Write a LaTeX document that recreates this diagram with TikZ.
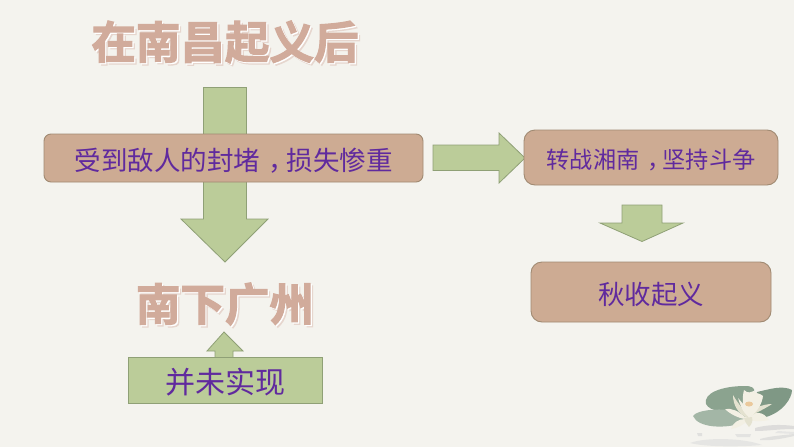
\documentclass[tikz,border=0pt]{standalone}
\usepackage{fontspec}
\setmainfont{Noto Sans CJK SC}
\newfontfamily\cjkheavy[FakeBold=2.6]{Noto Sans CJK SC Bold}
\usetikzlibrary{shapes.geometric}
\newcommand{\midcomma}{\hspace{.33em}，\hspace{-.33em}}
\definecolor{bgc}{HTML}{F4F3EE}
\definecolor{tanfill}{HTML}{CDAB93}
\definecolor{tanline}{HTML}{A08A72}
\definecolor{greenfill}{HTML}{BBCC99}
\definecolor{greenline}{HTML}{8FA076}
\definecolor{purpletext}{HTML}{602A9E}
\definecolor{headc}{HTML}{D1AB9B}
\definecolor{headshadow}{HTML}{E6D6CE}
\definecolor{leafa}{HTML}{A3B6A6}
\definecolor{leafb}{HTML}{8BA38F}
\definecolor{leafc}{HTML}{7F9885}
\definecolor{petala}{HTML}{F3F0E4}
\definecolor{petalb}{HTML}{E4E2D0}
\tikzset{
  tanbox/.style={draw=tanline,fill=tanfill,line width=0.9pt,rounded corners=#1,inner sep=0pt},
  greenbox/.style={draw=greenline,fill=greenfill,line width=0.9pt,inner sep=0pt},
  blockarrow/.style={draw=greenline,fill=greenfill,line width=0.8pt,line join=miter},
  bodytext/.style={text=purpletext,inner sep=0pt,text depth=0pt},
  headtext/.style={inner sep=0pt,font=\cjkheavy\fontsize{44.5}{45}\selectfont},
  reflect/.style={fill=#1,draw=none,opacity=.65},
  petal/.style={fill=#1,draw=none}
}
\begin{document}
\begin{tikzpicture}[x=1pt,y=-1pt]
\path[use as bounding box,fill=bgc] (0,0) rectangle (794,447);
% heading 1
\node[headtext,text=headshadow] (h1s) at (227.5,44.5) {在南昌起义后};
\node[headtext,text=white] (h1w) at (226.2,43.2) {在南昌起义后};
\node[headtext,text=headc] (h1) at (225,42) {在南昌起义后};
% down arrow
\draw[blockarrow] (203.5,87.5) -- (246.5,87.5) -- (246.5,219) -- (268,219) -- (225,262) -- (181,219) -- (203.5,219) -- cycle;
% box 1
\node[tanbox=7pt,minimum width=379pt,minimum height=48pt] (b1) at (233.5,158) {};
\node[bodytext] (t1) at (233.5,159) {\fontsize{26.5}{27}\selectfont 受到敌人的封堵\midcomma 损失惨重};
% right arrow
\draw[blockarrow] (433,145) -- (499,145) -- (499,133) -- (525,158) -- (499,183) -- (499,170.5) -- (433,170.5) -- cycle;
% box 2
\node[tanbox=11pt,minimum width=254pt,minimum height=55pt] (b2) at (651,157.5) {};
\node[bodytext] (t2) at (651,158.5) {\fontsize{23.2}{24}\selectfont 转战湘南\midcomma 坚持斗争};
% small down arrow
\draw[blockarrow] (622,205) -- (662,205) -- (662,223) -- (683,223) -- (642,241.5) -- (600,223) -- (622,223) -- cycle;
% box 3
\node[tanbox=11pt,minimum width=240pt,minimum height=60pt] (b3) at (651,292) {};
\node[bodytext] (t3) at (651,293) {\fontsize{26.5}{27}\selectfont 秋收起义};
% heading 2
\node[headtext,text=headshadow] (h2s) at (227.5,306.5) {南下广州};
\node[headtext,text=white] (h2w) at (226.2,305.2) {南下广州};
\node[headtext,text=headc] (h2) at (225,304) {南下广州};
% up arrow
\draw[blockarrow] (224,332) -- (243,351) -- (233,351) -- (233,358) -- (215,358) -- (215,351) -- (207,351) -- cycle;
% green box
\node[greenbox,minimum width=194pt,minimum height=46pt] (b4) at (225,380) {};
\node[bodytext] (t4) at (225,381) {\fontsize{30}{30}\selectfont 并未实现};
% water lily: reflections
\path[reflect=black!13] (690,443) .. controls (705,437) and (745,438) .. (762,445) .. controls (740,447) and (705,447) .. (690,443) -- cycle;
\path[reflect=black!18] (755,428) .. controls (765,425) and (780,424) .. (794,426) -- (794,429) .. controls (778,429) and (768,431) .. (755,431) -- cycle;
\path[reflect=black!16] (760,439) .. controls (770,436) and (785,435) .. (794,434) -- (794,436) .. controls (785,438) and (772,441) .. (760,440) -- cycle;
\path[reflect=black!14] (735,434) -- (751,434) -- (750,437) -- (737,437) -- cycle;
\path[reflect=black!16] (697,433) -- (702,433) -- (702,436) -- (698,436) -- cycle;
\path[reflect=black!12] (775,433) -- (794,434) -- (794,432) -- (778,431) -- cycle;
% water lily: leaves
\path[fill=leafb] (706,404) .. controls (703,393) and (722,386) .. (745,386) .. controls (752,386) and (755,388) .. (754,392) -- (740,412) .. controls (725,412) and (710,412) .. (706,404) -- cycle;
\path[fill=leafc] (757,392) .. controls (770,389) and (783,385) .. (792,390) .. controls (792,398) and (783,412) .. (766,417) -- (752,412) -- cycle;
\path[fill=leafa] (693,416) .. controls (696,410) and (722,407) .. (742,412) .. controls (750,414) and (748,420) .. (742,423) .. controls (725,429) and (698,428) .. (693,416) -- cycle;
% water lily: outer petals
\path[petal=petala] (745,417) .. controls (738,411) and (732,408) .. (725,409) .. controls (730,414) and (738,418) .. (745,419) -- cycle;
\path[petal=petala] (745,417) .. controls (755,411) and (763,411) .. (769,420) .. controls (760,422) and (750,421) .. (745,419) -- cycle;
\path[petal=petala] (745,419) .. controls (738,419) and (733,423) .. (731,429) .. controls (738,428) and (745,424) .. (748,420) -- cycle;
\path[petal=petalb] (744,418) .. controls (745,422) and (747,425) .. (749,427) .. controls (752,424) and (753,421) .. (752,417) -- cycle;
% water lily: upper petals
\path[petal=petalb] (748,416) .. controls (742,408) and (737,402) .. (733,395) .. controls (733,405) and (738,414) .. (748,418) -- cycle;
\path[petal=petalb] (750,416) .. controls (758,412) and (766,408) .. (772,404) .. controls (768,404) and (762,405) .. (755,408) -- cycle;
\path[petal=petala] (748,416) .. controls (742,408) and (742,398) .. (744,390) .. controls (748,394) and (751,392) .. (754,391) .. controls (756,394) and (760,393) .. (763,396) .. controls (762,404) and (757,412) .. (750,417) -- cycle;
\path[petal=petala] (738,398) .. controls (740,404) and (742,412) .. (749,417) -- (744,405) -- cycle;
\path[petal=orange!25!petalb] (749,404) ellipse (4pt and 2.5pt);
\end{tikzpicture}
\end{document}
